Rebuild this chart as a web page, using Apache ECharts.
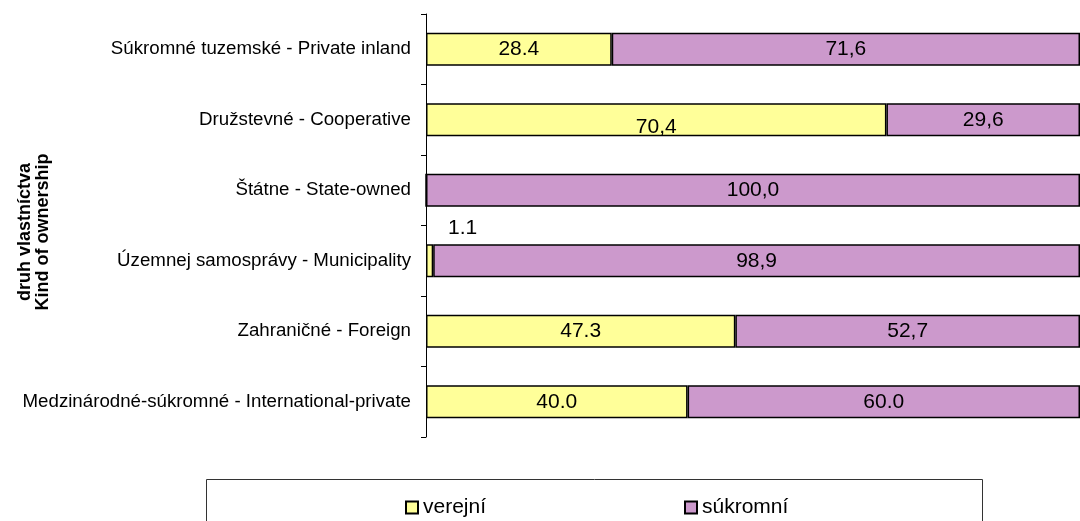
<!DOCTYPE html>
<html>
<head>
<meta charset="utf-8">
<script src="https://cdn.jsdelivr.net/npm/echarts@6/dist/echarts.min.js"></script>
<style>
    html, body { margin: 0; padding: 0; background: #fff; }
    #chart { width: 1080px; height: 521px; }
</style>
</head>
<body>
<div id="chart"></div>
<script>
    var categories = [
        'Súkromné tuzemské - Private inland',
        'Družstevné - Cooperative',
        'Štátne - State-owned',
        'Územnej samosprávy - Municipality',
        'Zahraničné - Foreign',
        'Medzinárodné-súkromné - International-private'
    ];
    var publicValues = [28.4, 70.4, 0, 1.1, 47.3, 40.0];
    var privateValues = [71.6, 29.6, 100.0, 98.9, 52.7, 60.0];
    // labels as printed in the source (mixed decimal separators)
    var publicLabels = ['28.4', '70,4', '', '1.1', '47.3', '40.0'];
    var privateLabels = ['71,6', '29,6', '100,0', '98,9', '52,7', '60.0'];

    var FONT = '"Liberation Sans", Arial, sans-serif';

    var chart = echarts.init(document.getElementById('chart'));

    var publicData = publicValues.map(function (v, i) {
        var item = {value: v};
        if (i === 1) {
            item.label = {offset: [0, 7]};
        }
        if (i === 3) {
            item.label = {offset: [33, -33]};
        }
        return item;
    });

    function legendBox(name, left) {
        return {
            data: [name],
            left: left,
            top: 497,
            padding: 0,
            icon: 'rect',
            itemWidth: 12,
            itemHeight: 12,
            itemGap: 0,
            itemStyle: {borderColor: '#000', borderWidth: 2},
            textStyle: {fontSize: 21, color: '#000', fontFamily: FONT}
        };
    }

    var option = {
        animation: false,
        textStyle: {fontFamily: FONT},
        grid: {
            left: 426,
            top: 14,
            width: 660,
            height: 423
        },
        legend: [legendBox('verejní', 405), legendBox('súkromní', 684)],
        xAxis: {
            type: 'value',
            min: 0,
            max: 100,
            show: false
        },
        yAxis: {
            type: 'category',
            data: categories,
            inverse: true,
            axisLine: {lineStyle: {color: '#000', width: 1}},
            axisTick: {show: true, length: 5, lineStyle: {color: '#000'}},
            axisLabel: {color: '#000', fontSize: 18.7, margin: 15, fontFamily: FONT}
        },
        graphic: [
            {
                type: 'text',
                x: 34,
                y: 232,
                rotation: Math.PI / 2,
                style: {
                    text: 'druh vlastníctva\nKind of ownership',
                    font: 'bold 18px ' + FONT,
                    fill: '#000',
                    textAlign: 'center',
                    textVerticalAlign: 'middle',
                    lineHeight: 18
                }
            },
            {
                type: 'rect',
                shape: {x: 206.5, y: 479.5, width: 776, height: 60},
                style: {fill: 'none', stroke: '#333', lineWidth: 1}
            }
        ],
        series: [
            {
                name: 'verejní',
                type: 'bar',
                stack: 'total',
                barWidth: 33,
                data: publicData,
                itemStyle: {color: '#FFFF99', borderColor: '#000', borderWidth: 1.5},
                label: {
                    show: true,
                    position: 'inside',
                    color: '#000',
                    fontSize: 21,
                    fontFamily: FONT,
                    formatter: function (p) { return publicLabels[p.dataIndex]; }
                }
            },
            {
                name: 'súkromní',
                type: 'bar',
                stack: 'total',
                barWidth: 33,
                data: privateValues,
                itemStyle: {color: '#CC99CC', borderColor: '#000', borderWidth: 1.5},
                label: {
                    show: true,
                    position: 'inside',
                    color: '#000',
                    fontSize: 21,
                    fontFamily: FONT,
                    formatter: function (p) { return privateLabels[p.dataIndex]; }
                }
            }
        ]
    };

    chart.setOption(option);
</script>
</body>
</html>
